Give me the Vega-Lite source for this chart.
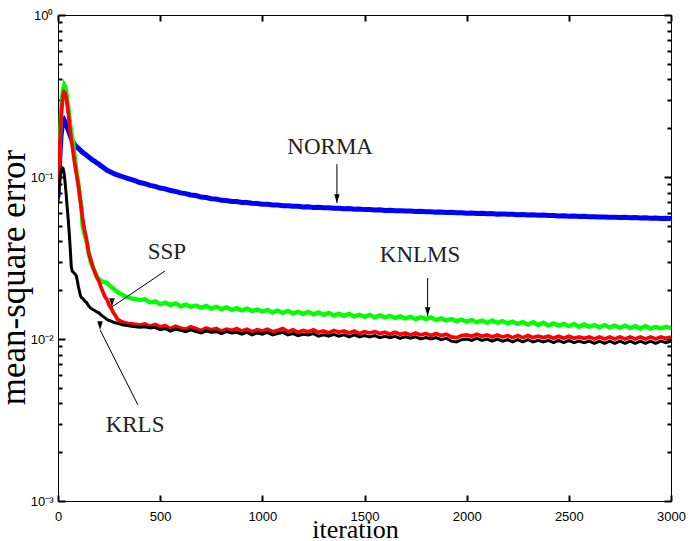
{
"$schema": "https://vega.github.io/schema/vega-lite/v6.json",
"width": 613, "height": 486, "autosize": "none",
"padding": {"left": 58, "top": 15, "right": 19, "bottom": 40},
"background": "white",
"config": {"view": {"stroke": "black", "strokeWidth": 1}},
"datasets": {
"mse": [
{"it":0,"NORMA":0.075,"KNLMS":0.08,"SSP":0.08,"KRLS":0.07},
{"it":5,"NORMA":0.10,"KNLMS":0.12,"SSP":0.115,"KRLS":0.085},
{"it":10,"NORMA":0.14,"KNLMS":0.18,"SSP":0.17,"KRLS":0.10},
{"it":15,"NORMA":0.18,"KNLMS":0.25,"SSP":0.23,"KRLS":0.11},
{"it":20,"NORMA":0.205,"KNLMS":0.31,"SSP":0.28,"KRLS":0.114},
{"it":25,"NORMA":0.22,"KNLMS":0.35,"SSP":0.32,"KRLS":0.113},
{"it":30,"NORMA":0.225,"KNLMS":0.37,"SSP":0.335,"KRLS":0.105},
{"it":35,"NORMA":0.219,"KNLMS":0.36,"SSP":0.33,"KRLS":0.092},
{"it":40,"NORMA":0.210,"KNLMS":0.34,"SSP":0.31,"KRLS":0.078},
{"it":45,"NORMA":0.202,"KNLMS":0.30,"SSP":0.28,"KRLS":0.065},
{"it":50,"NORMA":0.195,"KNLMS":0.27,"SSP":0.25,"KRLS":0.055},
{"it":55,"NORMA":0.187,"KNLMS":0.24,"SSP":0.22,"KRLS":0.045},
{"it":60,"NORMA":0.180,"KNLMS":0.21,"SSP":0.19,"KRLS":0.036},
{"it":65,"NORMA":0.173,"KNLMS":0.19,"SSP":0.17,"KRLS":0.028},
{"it":70,"NORMA":0.167,"KNLMS":0.175,"SSP":0.155,"KRLS":0.0262},
{"it":80,"NORMA":0.159,"KNLMS":0.14,"SSP":0.125,"KRLS":0.0255},
{"it":90,"NORMA":0.154,"KNLMS":0.11,"SSP":0.105,"KRLS":0.0245},
{"it":100,"NORMA":0.150,"KNLMS":0.09,"SSP":0.088,"KRLS":0.021},
{"it":110,"NORMA":0.146,"KNLMS":0.072,"SSP":0.07,"KRLS":0.0185},
{"it":115,"NORMA":0.144,"KNLMS":0.066,"SSP":0.062,"KRLS":0.0180},
{"it":120,"NORMA":0.142,"KNLMS":0.050,"SSP":0.056,"KRLS":0.0178},
{"it":130,"NORMA":0.139,"KNLMS":0.044,"SSP":0.047,"KRLS":0.0172},
{"it":140,"NORMA":0.136,"KNLMS":0.040,"SSP":0.041,"KRLS":0.0168},
{"it":150,"NORMA":0.133,"KNLMS":0.034,"SSP":0.034,"KRLS":0.0160},
{"it":160,"NORMA":0.130,"KNLMS":0.030,"SSP":0.031,"KRLS":0.0155},
{"it":170,"NORMA":0.127,"KNLMS":0.028,"SSP":0.028,"KRLS":0.0152},
{"it":180,"NORMA":0.125,"KNLMS":0.026,"SSP":0.026,"KRLS":0.0150},
{"it":190,"NORMA":0.122,"KNLMS":0.0245,"SSP":0.0240,"KRLS":0.0147},
{"it":200,"NORMA":0.120,"KNLMS":0.0235,"SSP":0.0228,"KRLS":0.0145},
{"it":210,"NORMA":0.117,"KNLMS":0.0230,"SSP":0.0210,"KRLS":0.0141},
{"it":220,"NORMA":0.115,"KNLMS":0.0225,"SSP":0.0195,"KRLS":0.0138},
{"it":230,"NORMA":0.1125,"KNLMS":0.0224,"SSP":0.0182,"KRLS":0.0135},
{"it":240,"NORMA":0.110,"KNLMS":0.0222,"SSP":0.0175,"KRLS":0.0132},
{"it":250,"NORMA":0.1085,"KNLMS":0.0215,"SSP":0.0162,"KRLS":0.0130},
{"it":260,"NORMA":0.107,"KNLMS":0.0210,"SSP":0.0155,"KRLS":0.0129},
{"it":270,"NORMA":0.1055,"KNLMS":0.0206,"SSP":0.0146,"KRLS":0.0127},
{"it":280,"NORMA":0.104,"KNLMS":0.0200,"SSP":0.0140,"KRLS":0.0126},
{"it":290,"NORMA":0.103,"KNLMS":0.0196,"SSP":0.0133,"KRLS":0.0125},
{"it":300,"NORMA":0.102,"KNLMS":0.0192,"SSP":0.0130,"KRLS":0.0124},
{"it":320,"NORMA":0.100,"KNLMS":0.0186,"SSP":0.0127,"KRLS":0.0122},
{"it":340,"NORMA":0.098,"KNLMS":0.0181,"SSP":0.0125,"KRLS":0.0121},
{"it":360,"NORMA":0.0962,"KNLMS":0.0178,"SSP":0.0124,"KRLS":0.0120},
{"it":380,"NORMA":0.0945,"KNLMS":0.0176,"SSP":0.0123,"KRLS":0.0119},
{"it":400,"NORMA":0.0925,"KNLMS":0.0174,"SSP":0.0122,"KRLS":0.0118},
{"it":425,"NORMA":0.0910,"KNLMS":0.0176,"SSP":0.0124,"KRLS":0.0119},
{"it":450,"NORMA":0.0888,"KNLMS":0.0168,"SSP":0.0120,"KRLS":0.0117},
{"it":475,"NORMA":0.0875,"KNLMS":0.0171,"SSP":0.0123,"KRLS":0.0118},
{"it":500,"NORMA":0.0855,"KNLMS":0.0164,"SSP":0.0119,"KRLS":0.0114},
{"it":525,"NORMA":0.0845,"KNLMS":0.0168,"SSP":0.0121,"KRLS":0.0116},
{"it":550,"NORMA":0.0825,"KNLMS":0.0162,"SSP":0.0116,"KRLS":0.0112},
{"it":575,"NORMA":0.0815,"KNLMS":0.0166,"SSP":0.0120,"KRLS":0.0115},
{"it":600,"NORMA":0.0798,"KNLMS":0.0159,"SSP":0.0117,"KRLS":0.0113},
{"it":625,"NORMA":0.0790,"KNLMS":0.0163,"SSP":0.0115,"KRLS":0.0111},
{"it":650,"NORMA":0.0774,"KNLMS":0.0158,"SSP":0.0119,"KRLS":0.0114},
{"it":675,"NORMA":0.0768,"KNLMS":0.0161,"SSP":0.0116,"KRLS":0.0111},
{"it":700,"NORMA":0.0752,"KNLMS":0.0156,"SSP":0.0113,"KRLS":0.0109},
{"it":725,"NORMA":0.0747,"KNLMS":0.0160,"SSP":0.0117,"KRLS":0.0112},
{"it":750,"NORMA":0.0735,"KNLMS":0.0154,"SSP":0.0114,"KRLS":0.0110},
{"it":775,"NORMA":0.0731,"KNLMS":0.0158,"SSP":0.0116,"KRLS":0.0111},
{"it":800,"NORMA":0.0718,"KNLMS":0.0153,"SSP":0.0112,"KRLS":0.0108},
{"it":825,"NORMA":0.0716,"KNLMS":0.0157,"SSP":0.0115,"KRLS":0.0111},
{"it":850,"NORMA":0.0707,"KNLMS":0.0151,"SSP":0.0113,"KRLS":0.0109},
{"it":875,"NORMA":0.0706,"KNLMS":0.0155,"SSP":0.0116,"KRLS":0.0110},
{"it":900,"NORMA":0.0697,"KNLMS":0.0150,"SSP":0.0112,"KRLS":0.0107},
{"it":925,"NORMA":0.0696,"KNLMS":0.0154,"SSP":0.0115,"KRLS":0.0110},
{"it":950,"NORMA":0.0688,"KNLMS":0.0149,"SSP":0.0111,"KRLS":0.0106},
{"it":975,"NORMA":0.0687,"KNLMS":0.0152,"SSP":0.0114,"KRLS":0.0109},
{"it":1000,"NORMA":0.0680,"KNLMS":0.0148,"SSP":0.0112,"KRLS":0.0107},
{"it":1025,"NORMA":0.0678,"KNLMS":0.0151,"SSP":0.0115,"KRLS":0.0110},
{"it":1050,"NORMA":0.0672,"KNLMS":0.0146,"SSP":0.0111,"KRLS":0.0106},
{"it":1075,"NORMA":0.0672,"KNLMS":0.0150,"SSP":0.0113,"KRLS":0.0108},
{"it":1100,"NORMA":0.0665,"KNLMS":0.0145,"SSP":0.0116,"KRLS":0.0110},
{"it":1125,"NORMA":0.0665,"KNLMS":0.0149,"SSP":0.0111,"KRLS":0.0106},
{"it":1150,"NORMA":0.0659,"KNLMS":0.0144,"SSP":0.0114,"KRLS":0.0108},
{"it":1175,"NORMA":0.0660,"KNLMS":0.0147,"SSP":0.0110,"KRLS":0.0105},
{"it":1200,"NORMA":0.0654,"KNLMS":0.0143,"SSP":0.0113,"KRLS":0.0107},
{"it":1225,"NORMA":0.0655,"KNLMS":0.0147,"SSP":0.0111,"KRLS":0.0106},
{"it":1250,"NORMA":0.0649,"KNLMS":0.0142,"SSP":0.0114,"KRLS":0.0108},
{"it":1275,"NORMA":0.0651,"KNLMS":0.0146,"SSP":0.0110,"KRLS":0.0104},
{"it":1300,"NORMA":0.0645,"KNLMS":0.0141,"SSP":0.0112,"KRLS":0.0106},
{"it":1325,"NORMA":0.0646,"KNLMS":0.0145,"SSP":0.0109,"KRLS":0.0104},
{"it":1350,"NORMA":0.0641,"KNLMS":0.0140,"SSP":0.0113,"KRLS":0.0107},
{"it":1375,"NORMA":0.0642,"KNLMS":0.0143,"SSP":0.0110,"KRLS":0.0104},
{"it":1400,"NORMA":0.0637,"KNLMS":0.0139,"SSP":0.0112,"KRLS":0.0106},
{"it":1425,"NORMA":0.0638,"KNLMS":0.0143,"SSP":0.0109,"KRLS":0.0103},
{"it":1450,"NORMA":0.0633,"KNLMS":0.0138,"SSP":0.0112,"KRLS":0.0106},
{"it":1475,"NORMA":0.0634,"KNLMS":0.0141,"SSP":0.0108,"KRLS":0.0103},
{"it":1500,"NORMA":0.0629,"KNLMS":0.0137,"SSP":0.0111,"KRLS":0.0105},
{"it":1525,"NORMA":0.0630,"KNLMS":0.0141,"SSP":0.0109,"KRLS":0.0103},
{"it":1550,"NORMA":0.0626,"KNLMS":0.0136,"SSP":0.0111,"KRLS":0.0105},
{"it":1575,"NORMA":0.0627,"KNLMS":0.0140,"SSP":0.0108,"KRLS":0.0102},
{"it":1600,"NORMA":0.0622,"KNLMS":0.0136,"SSP":0.0110,"KRLS":0.0104},
{"it":1625,"NORMA":0.0623,"KNLMS":0.0139,"SSP":0.0107,"KRLS":0.0102},
{"it":1650,"NORMA":0.0619,"KNLMS":0.0135,"SSP":0.0110,"KRLS":0.0104},
{"it":1675,"NORMA":0.0620,"KNLMS":0.0138,"SSP":0.0107,"KRLS":0.0101},
{"it":1700,"NORMA":0.0616,"KNLMS":0.0134,"SSP":0.0109,"KRLS":0.0103},
{"it":1725,"NORMA":0.0617,"KNLMS":0.0137,"SSP":0.0106,"KRLS":0.0101},
{"it":1750,"NORMA":0.0613,"KNLMS":0.0133,"SSP":0.0109,"KRLS":0.0103},
{"it":1775,"NORMA":0.0614,"KNLMS":0.0136,"SSP":0.0106,"KRLS":0.0100},
{"it":1800,"NORMA":0.0610,"KNLMS":0.0133,"SSP":0.0108,"KRLS":0.0102},
{"it":1825,"NORMA":0.0611,"KNLMS":0.0136,"SSP":0.0105,"KRLS":0.0100},
{"it":1850,"NORMA":0.0607,"KNLMS":0.0131,"SSP":0.0108,"KRLS":0.0102},
{"it":1875,"NORMA":0.0608,"KNLMS":0.0134,"SSP":0.0105,"KRLS":0.0099},
{"it":1900,"NORMA":0.0604,"KNLMS":0.0130,"SSP":0.0107,"KRLS":0.0101},
{"it":1925,"NORMA":0.0605,"KNLMS":0.0133,"SSP":0.0103,"KRLS":0.0097},
{"it":1950,"NORMA":0.0601,"KNLMS":0.0129,"SSP":0.0102,"KRLS":0.0096},
{"it":1975,"NORMA":0.0602,"KNLMS":0.0132,"SSP":0.0105,"KRLS":0.0099},
{"it":2000,"NORMA":0.0598,"KNLMS":0.0128,"SSP":0.0106,"KRLS":0.0100},
{"it":2025,"NORMA":0.0600,"KNLMS":0.0131,"SSP":0.0104,"KRLS":0.0098},
{"it":2050,"NORMA":0.0595,"KNLMS":0.0127,"SSP":0.0107,"KRLS":0.0101},
{"it":2075,"NORMA":0.0597,"KNLMS":0.0130,"SSP":0.0104,"KRLS":0.0098},
{"it":2100,"NORMA":0.0593,"KNLMS":0.0126,"SSP":0.0106,"KRLS":0.0100},
{"it":2125,"NORMA":0.0595,"KNLMS":0.0130,"SSP":0.0103,"KRLS":0.0097},
{"it":2150,"NORMA":0.0590,"KNLMS":0.0126,"SSP":0.0106,"KRLS":0.0100},
{"it":2175,"NORMA":0.0592,"KNLMS":0.0129,"SSP":0.0103,"KRLS":0.0097},
{"it":2200,"NORMA":0.0588,"KNLMS":0.0125,"SSP":0.0105,"KRLS":0.0099},
{"it":2225,"NORMA":0.0589,"KNLMS":0.0128,"SSP":0.0102,"KRLS":0.0096},
{"it":2250,"NORMA":0.0585,"KNLMS":0.0124,"SSP":0.0105,"KRLS":0.0099},
{"it":2275,"NORMA":0.0587,"KNLMS":0.0127,"SSP":0.0102,"KRLS":0.0096},
{"it":2300,"NORMA":0.0583,"KNLMS":0.0123,"SSP":0.0105,"KRLS":0.0099},
{"it":2325,"NORMA":0.0584,"KNLMS":0.0127,"SSP":0.0102,"KRLS":0.0096},
{"it":2350,"NORMA":0.0580,"KNLMS":0.0122,"SSP":0.0104,"KRLS":0.0098},
{"it":2375,"NORMA":0.0582,"KNLMS":0.0126,"SSP":0.0102,"KRLS":0.0096},
{"it":2400,"NORMA":0.0578,"KNLMS":0.0121,"SSP":0.0104,"KRLS":0.0098},
{"it":2425,"NORMA":0.0579,"KNLMS":0.0125,"SSP":0.0101,"KRLS":0.0095},
{"it":2450,"NORMA":0.0575,"KNLMS":0.0121,"SSP":0.0104,"KRLS":0.0098},
{"it":2475,"NORMA":0.0577,"KNLMS":0.0124,"SSP":0.0101,"KRLS":0.0095},
{"it":2500,"NORMA":0.0573,"KNLMS":0.0120,"SSP":0.0104,"KRLS":0.0098},
{"it":2525,"NORMA":0.0574,"KNLMS":0.0124,"SSP":0.0101,"KRLS":0.0095},
{"it":2550,"NORMA":0.0570,"KNLMS":0.0119,"SSP":0.0103,"KRLS":0.0097},
{"it":2575,"NORMA":0.0572,"KNLMS":0.0123,"SSP":0.0101,"KRLS":0.0095},
{"it":2600,"NORMA":0.0568,"KNLMS":0.0119,"SSP":0.0103,"KRLS":0.0097},
{"it":2625,"NORMA":0.0569,"KNLMS":0.0122,"SSP":0.0100,"KRLS":0.0094},
{"it":2650,"NORMA":0.0566,"KNLMS":0.0118,"SSP":0.0103,"KRLS":0.0097},
{"it":2675,"NORMA":0.0567,"KNLMS":0.0122,"SSP":0.0100,"KRLS":0.0094},
{"it":2700,"NORMA":0.0564,"KNLMS":0.0118,"SSP":0.0103,"KRLS":0.0097},
{"it":2725,"NORMA":0.0565,"KNLMS":0.0121,"SSP":0.0100,"KRLS":0.0094},
{"it":2750,"NORMA":0.0562,"KNLMS":0.0117,"SSP":0.0103,"KRLS":0.0097},
{"it":2775,"NORMA":0.0564,"KNLMS":0.0121,"SSP":0.0100,"KRLS":0.0094},
{"it":2800,"NORMA":0.0560,"KNLMS":0.0117,"SSP":0.0103,"KRLS":0.0097},
{"it":2825,"NORMA":0.0562,"KNLMS":0.0120,"SSP":0.0100,"KRLS":0.0094},
{"it":2850,"NORMA":0.0558,"KNLMS":0.0116,"SSP":0.0103,"KRLS":0.0097},
{"it":2875,"NORMA":0.0560,"KNLMS":0.0120,"SSP":0.0100,"KRLS":0.0094},
{"it":2900,"NORMA":0.0556,"KNLMS":0.0116,"SSP":0.0103,"KRLS":0.0097},
{"it":2925,"NORMA":0.0558,"KNLMS":0.0119,"SSP":0.0100,"KRLS":0.0094},
{"it":2950,"NORMA":0.0554,"KNLMS":0.0116,"SSP":0.0103,"KRLS":0.0097},
{"it":2975,"NORMA":0.0557,"KNLMS":0.0119,"SSP":0.0101,"KRLS":0.0095},
{"it":3000,"NORMA":0.0555,"KNLMS":0.0117,"SSP":0.0103,"KRLS":0.0097}
],
"labels": [
{"label":"NORMA","it":1332,"v":0.153},
{"label":"KNLMS","it":1772,"v":0.033},
{"label":"SSP","it":533,"v":0.0344},
{"label":"KRLS","it":377,"v":0.00294}
],
"arrows": [
{"label":"NORMA","it":1365,"v":0.120,"it2":1365,"v2":0.0691},
{"label":"KNLMS","it":1809,"v":0.0238,"it2":1809,"v2":0.01387},
{"label":"SSP","it":524,"v":0.0263,"it2":264,"v2":0.01577},
{"label":"KRLS","it":391,"v":0.00392,"it2":206,"v2":0.01137}
]
},
"layer": [
{
"data": {"name": "mse"},
"transform": [{"fold": ["NORMA","KNLMS","SSP","KRLS"], "as": ["algorithm","mse"]}],
"mark": {"type": "line", "clip": true},
"encoding": {
"x": {"field": "it", "type": "quantitative", "scale": {"domain": [0,3000], "nice": false},
"axis": {"orient": "bottom", "offset": -6, "values": [0,500,1000,1500,2000,2500,3000], "format": "d", "tickSize": 6, "tickWidth": 2, "tickColor": "black", "domain": false, "grid": false,
"labelFont": "Liberation Sans", "labelFontSize": 13, "labelColor": "black", "labelPadding": 9, "labelFlush": false,
"title": "iteration", "titleFont": "Liberation Serif", "titleFontSize": 26, "titleFontWeight": "normal", "titleColor": "black", "titleX": 297, "titleY": 42, "titleAlign": "center", "titleBaseline": "alphabetic"}},
"y": {"field": "mse", "type": "quantitative", "scale": {"type": "log", "domain": [0.001,1], "nice": false},
"axis": {"orient": "left", "offset": -7, "values": [0.001,0.01,0.1,1],
"labelExpr": "datum.value == 1 ? '10⁰' : datum.value == 0.1 ? '10⁻¹' : datum.value == 0.01 ? '10⁻²' : '10⁻³'",
"tickSize": 7, "tickWidth": 2, "tickColor": "black", "domain": false, "grid": false,
"labelFont": "Liberation Sans", "labelFontSize": 13, "labelColor": "black", "labelPadding": 5, "labelFlush": false,
"title": "mean-square error", "titleFont": "Liberation Serif", "titleFontSize": 35, "titleFontWeight": "normal", "titleColor": "black", "titleX": -41, "titleY": 262, "titleAlign": "center", "titleBaseline": "alphabetic", "titleAngle": 270}},
"color": {"field": "algorithm", "type": "nominal", "scale": {"domain": ["NORMA","KNLMS","SSP","KRLS"], "range": ["#0000ff","#00ff00","#ff0000","#000000"]}, "legend": null},
"strokeWidth": {"field": "algorithm", "type": "nominal", "scale": {"domain": ["NORMA","KNLMS","SSP","KRLS"], "range": [5,3,2.6,2.6]}, "legend": null}
}
},
{
"data": {"name": "mse"},
"mark": {"type": "point", "opacity": 0},
"encoding": {
"x": {"field": "it", "type": "quantitative",
"axis": {"orient": "top", "offset": -6, "values": [0,500,1000,1500,2000,2500,3000], "tickSize": 6, "tickWidth": 2, "tickColor": "black", "domain": false, "grid": false, "labels": false, "title": null}},
"y": {"field": "KRLS", "type": "quantitative",
"axis": {"orient": "right", "offset": -7, "values": [0.001,0.01,0.1,1], "tickSize": 7, "tickWidth": 2, "tickColor": "black", "domain": false, "grid": false, "labels": false, "title": null}}
}
},
{
"data": {"name": "mse"},
"mark": {"type": "point", "opacity": 0},
"encoding": {
"x": {"field": "it", "type": "quantitative", "axis": null},
"y": {"field": "KRLS", "type": "quantitative",
"axis": {"orient": "left", "offset": -4, "values": [0.002,0.003,0.004,0.005,0.006,0.007,0.008,0.009,0.02,0.03,0.04,0.05,0.06,0.07,0.08,0.09,0.2,0.3,0.4,0.5,0.6,0.7,0.8,0.9], "tickSize": 4, "tickWidth": 2, "tickColor": "black", "domain": false, "grid": false, "labels": false, "title": null}}
}
},
{
"data": {"name": "mse"},
"mark": {"type": "point", "opacity": 0},
"encoding": {
"x": {"field": "it", "type": "quantitative", "axis": null},
"y": {"field": "KRLS", "type": "quantitative",
"axis": {"orient": "right", "offset": -4, "values": [0.002,0.003,0.004,0.005,0.006,0.007,0.008,0.009,0.02,0.03,0.04,0.05,0.06,0.07,0.08,0.09,0.2,0.3,0.4,0.5,0.6,0.7,0.8,0.9], "tickSize": 4, "tickWidth": 2, "tickColor": "black", "domain": false, "grid": false, "labels": false, "title": null}}
}
},
{
"data": {"name": "arrows"},
"mark": {"type": "rule", "color": "black", "strokeWidth": 1},
"encoding": {
"x": {"field": "it", "type": "quantitative", "axis": null},
"y": {"field": "v", "type": "quantitative", "axis": null},
"x2": {"field": "it2"},
"y2": {"field": "v2"}
}
},
{
"data": {"name": "arrows"},
"mark": {"type": "point", "shape": "M0,0L-0.5,1.6L0.5,1.6Z", "filled": true, "color": "black", "opacity": 1, "size": 120, "strokeWidth": 0},
"encoding": {
"x": {"field": "it2", "type": "quantitative", "axis": null},
"y": {"field": "v2", "type": "quantitative", "axis": null},
"angle": {"field": "label", "type": "nominal", "scale": {"domain": ["NORMA","KNLMS","SSP","KRLS"], "range": [180,180,236,333]}, "legend": null}
}
},
{
"data": {"name": "labels"},
"mark": {"type": "text", "font": "Liberation Serif", "fontSize": 23, "color": "#222222", "align": "center", "baseline": "middle"},
"encoding": {
"x": {"field": "it", "type": "quantitative", "axis": null},
"y": {"field": "v", "type": "quantitative", "axis": null},
"text": {"field": "label"}
}
}
],
"resolve": {"axis": {"x": "independent", "y": "independent"}}
}
